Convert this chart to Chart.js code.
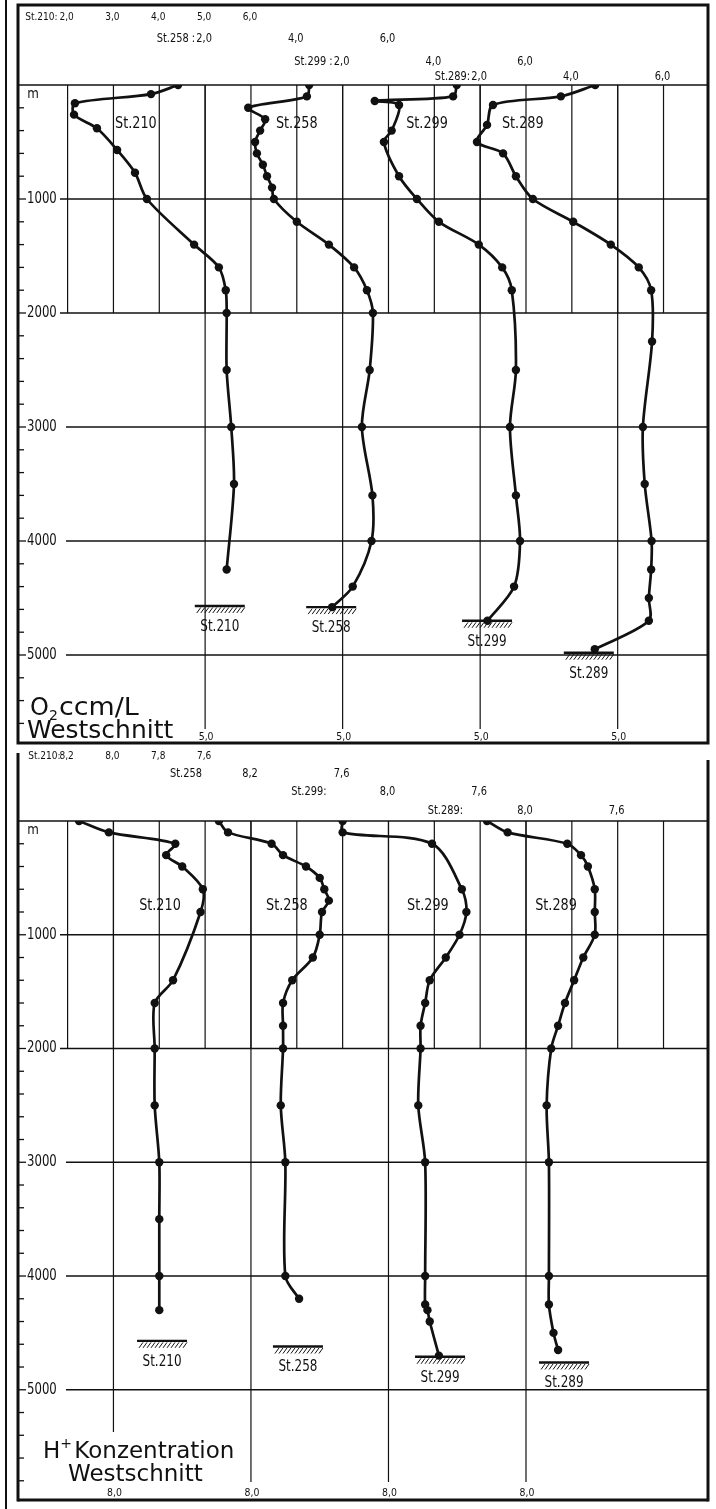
<!DOCTYPE html>
<html>
<head>
<meta charset="utf-8">
<script src="https://cdn.jsdelivr.net/npm/chart.js@4.4.1/dist/chart.umd.min.js"></script>
<style>
  html, body { margin: 0; padding: 0; background: #fff; }
  #wrap { position: relative; width: 716px; height: 1509px; overflow: hidden; }
  canvas { position: absolute; left: 0; }
  #o2 { top: 0; }
  #ph { top: 748px; }
</style>
</head>
<body>
<div id="wrap">
  <canvas id="o2" width="716" height="748"></canvas>
  <canvas id="ph" width="716" height="761"></canvas>
</div>
<script>
// stations of the west section, left to right
const stations = ['St.210', 'St.258', 'St.299', 'St.289'];

// O2 in ccm/L against depth in m
const o2Depth210 = [0, 80, 160, 260, 380, 570, 770, 1000, 1400, 1600, 1800, 2000, 2500, 3000, 3500, 4250];
const o2St210    = [4.41, 3.82, 2.16, 2.14, 2.64, 3.08, 3.47, 3.73, 4.76, 5.30, 5.45, 5.47, 5.47, 5.57, 5.63, 5.47];
const o2Depth258 = [0, 100, 200, 300, 400, 500, 600, 700, 800, 900, 1000, 1200, 1400, 1600, 1800, 2000, 2500, 3000, 3600, 4000, 4400, 4580];
const o2St258    = [4.27, 4.22, 2.94, 3.31, 3.20, 3.09, 3.13, 3.26, 3.35, 3.46, 3.50, 4.00, 4.70, 5.25, 5.53, 5.66, 5.59, 5.42, 5.65, 5.63, 5.22, 4.77];
const o2Depth299 = [0, 100, 140, 175, 400, 500, 800, 1000, 1200, 1400, 1600, 1800, 2500, 3000, 3600, 4000, 4400, 4700];
const o2St299    = [4.49, 4.41, 2.70, 3.23, 3.07, 2.90, 3.23, 3.62, 4.10, 4.97, 5.48, 5.69, 5.78, 5.65, 5.78, 5.87, 5.74, 5.16];
const o2Depth289 = [0, 100, 175, 350, 500, 600, 800, 1000, 1200, 1400, 1600, 1800, 2250, 3000, 3500, 4000, 4250, 4500, 4700, 4950];
const o2St289    = [4.51, 3.76, 2.28, 2.15, 1.93, 2.50, 2.78, 3.15, 4.03, 4.85, 5.46, 5.73, 5.75, 5.55, 5.59, 5.74, 5.73, 5.68, 5.68, 4.50];

// pH (H+ Konzentration) against depth in m
const phDepth210 = [0, 100, 200, 300, 400, 600, 800, 1400, 1600, 2000, 2500, 3000, 3500, 4000, 4300];
const phSt210    = [8.15, 8.02, 7.73, 7.77, 7.70, 7.61, 7.62, 7.74, 7.82, 7.82, 7.82, 7.80, 7.80, 7.80, 7.80];
const phDepth258 = [0, 100, 200, 300, 400, 500, 600, 700, 800, 1000, 1200, 1400, 1600, 1800, 2000, 2500, 3000, 4000, 4200];
const phSt258    = [8.14, 8.10, 7.91, 7.86, 7.76, 7.70, 7.68, 7.66, 7.69, 7.70, 7.73, 7.82, 7.86, 7.86, 7.86, 7.87, 7.85, 7.85, 7.79];
const phDepth299 = [0, 100, 200, 600, 800, 1000, 1200, 1400, 1600, 1800, 2000, 2500, 3000, 4000, 4250, 4300, 4400, 4700];
const phSt299    = [8.20, 8.20, 7.81, 7.68, 7.66, 7.69, 7.75, 7.82, 7.84, 7.86, 7.86, 7.87, 7.84, 7.84, 7.84, 7.83, 7.82, 7.78];
const phDepth289 = [0, 100, 200, 300, 400, 600, 800, 1000, 1200, 1400, 1600, 1800, 2000, 2500, 3000, 4000, 4250, 4500, 4650];
const phSt289    = [8.17, 8.08, 7.82, 7.76, 7.73, 7.70, 7.70, 7.70, 7.75, 7.79, 7.83, 7.86, 7.89, 7.91, 7.90, 7.90, 7.90, 7.88, 7.86];

// sea floor depth per station, as drawn in each panel
const o2SeaFloor = [4570, 4580, 4700, 4980];
const phSeaFloor = [4570, 4620, 4710, 4760];

// depth axis
const depthTicks = [1000, 2000, 3000, 4000, 5000];

// scale labels above each panel and under the long grid lines
const o2HeadValues = [[2, 3, 4, 5, 6], [2, 4, 6], [2, 4, 6], [2, 4, 6]];
const o2HeadLabels = [['2,0', '3,0', '4,0', '5,0', '6,0'], ['2,0', '4,0', '6,0'], ['2,0', '4,0', '6,0'], ['2,0', '4,0', '6,0']];
const o2HeadPrefix = ['St.210:', 'St.258 :', 'St.299 :', 'St.289:'];
const o2FootValue = 5;
const o2FootLabel = '5,0';
const phHeadValues = [[8.2, 8.0, 7.8, 7.6], [8.0, 7.6], [8.0, 7.6], [8.0, 7.6]];
const phHeadLabels = [['8,2', '8,0', '7,8', '7,6'], ['8,2', '7,6'], ['8,0', '7,6'], ['8,0', '7,6']];
const phHeadPrefix = ['St.210:', 'St.258', 'St.299:', 'St.289:'];
const phFootValue = 8.0;
const phFootLabel = '8,0';

// ---- layout ----
const INK = '#111';
const FONT = '"DejaVu Sans", "Liberation Sans", sans-serif';
const AREA_LEFT = 18, AREA_RIGHT = 708;
const GRID_X0 = 67.6, GRID_DX = 45.84;   // first grid line, grid spacing (px)

// where the station names and sea floor marks sit, in each station's own units
const o2NamePos = [[3.49, 340], [4.0, 345], [3.84, 345], [2.93, 345]];
const o2FloorX = [5.32, 4.75, 5.15, 4.37];
const phNamePos = [[7.797, 750], [7.843, 750], [7.828, 750], [7.869, 750]];
const phFloorX = [7.788, 7.795, 7.775, 7.834];

function o2Scale(k) {
  // 2,0 of St.210 on the first grid line, each station shifted three lines
  const first = 2 - 3 * k;
  return { type: 'linear', display: false,
    min: first - (GRID_X0 - AREA_LEFT) / GRID_DX,
    max: first + (AREA_RIGHT - GRID_X0) / GRID_DX };
}
function phScale(k) {
  // 0,2 pH per grid line, decreasing to the right
  const first = 8.2 + 0.6 * k;
  return { type: 'linear', display: false, reverse: true,
    min: first - 0.2 * (AREA_RIGHT - GRID_X0) / GRID_DX,
    max: first + 0.2 * (GRID_X0 - AREA_LEFT) / GRID_DX };
}

function text(ctx, s, x, y, size, align, squeeze, baseline) {
  ctx.save();
  ctx.font = size + 'px ' + FONT;
  ctx.fillStyle = INK;
  ctx.textAlign = align || 'left';
  ctx.textBaseline = baseline || 'middle';
  ctx.translate(x, y);
  ctx.scale(squeeze || 1, 1);
  ctx.fillText(s, 0, 0);
  ctx.restore();
}
function rule(ctx, x1, y1, x2, y2, w) {
  ctx.lineWidth = w;
  ctx.beginPath();
  ctx.moveTo(x1, y1);
  ctx.lineTo(x2, y2);
  ctx.stroke();
}
function seabed(ctx, cx, y, w) {
  rule(ctx, cx - w / 2, y, cx + w / 2, y, 2.4);
  ctx.lineWidth = 1;
  for (let hx = cx - w / 2 + 6; hx <= cx + w / 2; hx += 4) {
    ctx.beginPath();
    ctx.moveTo(hx, y + 1.5);
    ctx.lineTo(hx - 4, y + 7);
    ctx.stroke();
  }
}

function depthGrid(chart) {
  const { ctx, chartArea: a, scales } = chart;
  const y = scales.y;
  ctx.strokeStyle = INK;
  // page rule at the very left
  rule(ctx, 6, 0, 6, chart.height, 2);
  // short vertical lines down to 2000 m
  for (let i = 0; i < 14; i++) {
    const x = GRID_X0 + i * GRID_DX;
    rule(ctx, x, y.getPixelForValue(0), x, y.getPixelForValue(2000), 1.2);
  }
  // horizontal lines every 1000 m
  rule(ctx, a.left, y.getPixelForValue(0), a.right, y.getPixelForValue(0), 1.6);
  depthTicks.forEach(d => {
    const py = y.getPixelForValue(d);
    rule(ctx, d <= 2000 ? 60 : 66, py, a.right, py, 1.5);
    text(ctx, String(d), 27, py, 15, 'left', 0.78);
  });
  // small ticks on the depth axis
  for (let d = 200; d < y.max; d += 200) {
    const py = y.getPixelForValue(d);
    rule(ctx, a.left, py, a.left + (d % 1000 === 0 ? 8 : 6), py, 1.3);
  }
  text(ctx, 'm', 33, y.getPixelForValue(0) + 9, 14, 'center', 0.85);
}

function stationLabels(chart, names, floors, floorX, prefix, headVals, headLabs, headRows, prefixGap, headSizes) {
  const { ctx, scales } = chart;
  const y = scales.y;
  ctx.strokeStyle = INK;
  stations.forEach((s, k) => {
    const sx = scales['x' + k];
    text(ctx, s, sx.getPixelForValue(names[k][0]), y.getPixelForValue(names[k][1]), 16, 'center', 0.8);
    const fx = sx.getPixelForValue(floorX[k]);
    const fy = y.getPixelForValue(floors[k]);
    seabed(ctx, fx, fy, 50);
    text(ctx, s, fx, fy + 21, 15, 'center', 0.8);
    // scale labels at the head of the panel
    headVals[k].forEach((v, i) => text(ctx, headLabs[k][i], sx.getPixelForValue(v) - 1, headRows[k], headSizes[k], 'center', 0.82));
    text(ctx, prefix[k], sx.getPixelForValue(headVals[k][0]) - prefixGap[k], headRows[k], headSizes[k], 'right', 0.82);
  });
}

function datasetsFor(depths, values) {
  return depths.map((dd, k) => ({
    label: stations[k],
    data: dd.map((d, i) => ({ x: values[k][i], y: d })),
    xAxisID: 'x' + k,
    yAxisID: 'y',
    borderColor: INK,
    borderWidth: 2.7,
    pointRadius: 4.2,
    pointBackgroundColor: INK,
    pointBorderWidth: 0,
    tension: 0.3,
    fill: false
  }));
}

const baseOptions = {
  responsive: false,
  animation: false,
  indexAxis: 'y',
  plugins: { legend: { display: false }, tooltip: { enabled: false } },
  events: []
};

// ---- O2 panel ----
const o2Decor = {
  id: 'o2Decor',
  beforeDatasetsDraw(chart) {
    const { ctx, chartArea: a, scales } = chart;
    ctx.save();
    depthGrid(chart);
    stations.forEach((s, k) => {
      const x = scales['x' + k].getPixelForValue(o2FootValue);
      rule(ctx, x, scales.y.getPixelForValue(0), x, 729, 1.2);
    });
    ctx.strokeStyle = INK;
    ctx.lineWidth = 3;
    ctx.strokeRect(a.left, 5, a.right - a.left, a.bottom - 5);
    ctx.restore();
  },
  afterDatasetsDraw(chart) {
    const { ctx, scales } = chart;
    ctx.save();
    stationLabels(chart, o2NamePos, o2SeaFloor, o2FloorX, o2HeadPrefix, o2HeadValues, o2HeadLabels,
      [17, 39, 62, 77], [10, 10, 10, 10], [11, 12, 12, 12]);
    stations.forEach((s, k) => {
      text(ctx, o2FootLabel, scales['x' + k].getPixelForValue(o2FootValue) + 1, 737, 11, 'center', 0.85);
    });
    // title
    ctx.font = '24px ' + FONT;
    const wO = ctx.measureText('O').width;
    text(ctx, 'O', 30, 715, 24, 'left', 1, 'alphabetic');
    text(ctx, '2', 30 + wO, 720, 14, 'left', 1, 'alphabetic');
    text(ctx, 'ccm/L', 30 + wO + 10, 715, 24, 'left', 1.12, 'alphabetic');
    text(ctx, 'Westschnitt', 27, 738, 24, 'left', 1.04, 'alphabetic');
    ctx.restore();
  }
};

new Chart(document.getElementById('o2'), {
  type: 'line',
  data: { datasets: datasetsFor([o2Depth210, o2Depth258, o2Depth299, o2Depth289], [o2St210, o2St258, o2St299, o2St289]) },
  options: Object.assign({}, baseOptions, {
    layout: { padding: { left: AREA_LEFT, right: 716 - AREA_RIGHT, top: 85, bottom: 5 } },
    scales: {
      x0: o2Scale(0), x1: o2Scale(1), x2: o2Scale(2), x3: o2Scale(3),
      y: { type: 'linear', display: false, reverse: true, min: 0, max: 5772 }
    }
  }),
  plugins: [o2Decor]
});

// ---- pH panel ----
const phDecor = {
  id: 'phDecor',
  beforeDatasetsDraw(chart) {
    const { ctx, chartArea: a, scales } = chart;
    ctx.save();
    depthGrid(chart);
    stations.forEach((s, k) => {
      const x = scales['x' + k].getPixelForValue(phFootValue);
      rule(ctx, x, scales.y.getPixelForValue(0), x, k === 0 ? 684 : 734, 1.2);
    });
    ctx.strokeStyle = INK;
    rule(ctx, a.left, 5, a.left, a.bottom + 1.5, 3);
    rule(ctx, a.right, 12, a.right, a.bottom + 1.5, 3);
    rule(ctx, a.left, a.bottom, a.right, a.bottom, 3);
    ctx.restore();
  },
  afterDatasetsDraw(chart) {
    const { ctx, scales } = chart;
    ctx.save();
    stationLabels(chart, phNamePos, phSeaFloor, phFloorX, phHeadPrefix, phHeadValues, phHeadLabels,
      [8, 26, 44, 63], [7, 49, 62, 63], [11, 12, 12, 12]);
    stations.forEach((s, k) => {
      text(ctx, phFootLabel, scales['x' + k].getPixelForValue(phFootValue) + 1, 745, 11, 'center', 0.85);
    });
    // title
    ctx.font = '23px ' + FONT;
    const wH = ctx.measureText('H').width;
    text(ctx, 'H', 43, 710, 23, 'left', 1, 'alphabetic');
    text(ctx, '+', 43 + wH, 700, 14, 'left', 1, 'alphabetic');
    text(ctx, 'Konzentration', 43 + wH + 14, 710, 23, 'left', 1.0, 'alphabetic');
    text(ctx, 'Westschnitt', 68, 733, 23, 'left', 1.0, 'alphabetic');
    ctx.restore();
  }
};

new Chart(document.getElementById('ph'), {
  type: 'line',
  data: { datasets: datasetsFor([phDepth210, phDepth258, phDepth299, phDepth289], [phSt210, phSt258, phSt299, phSt289]) },
  options: Object.assign({}, baseOptions, {
    layout: { padding: { left: AREA_LEFT, right: 716 - AREA_RIGHT, top: 73, bottom: 9 } },
    scales: {
      x0: phScale(0), x1: phScale(1), x2: phScale(2), x3: phScale(3),
      y: { type: 'linear', display: false, reverse: true, min: 0, max: 5969 }
    }
  }),
  plugins: [phDecor]
});
</script>
</body>
</html>
